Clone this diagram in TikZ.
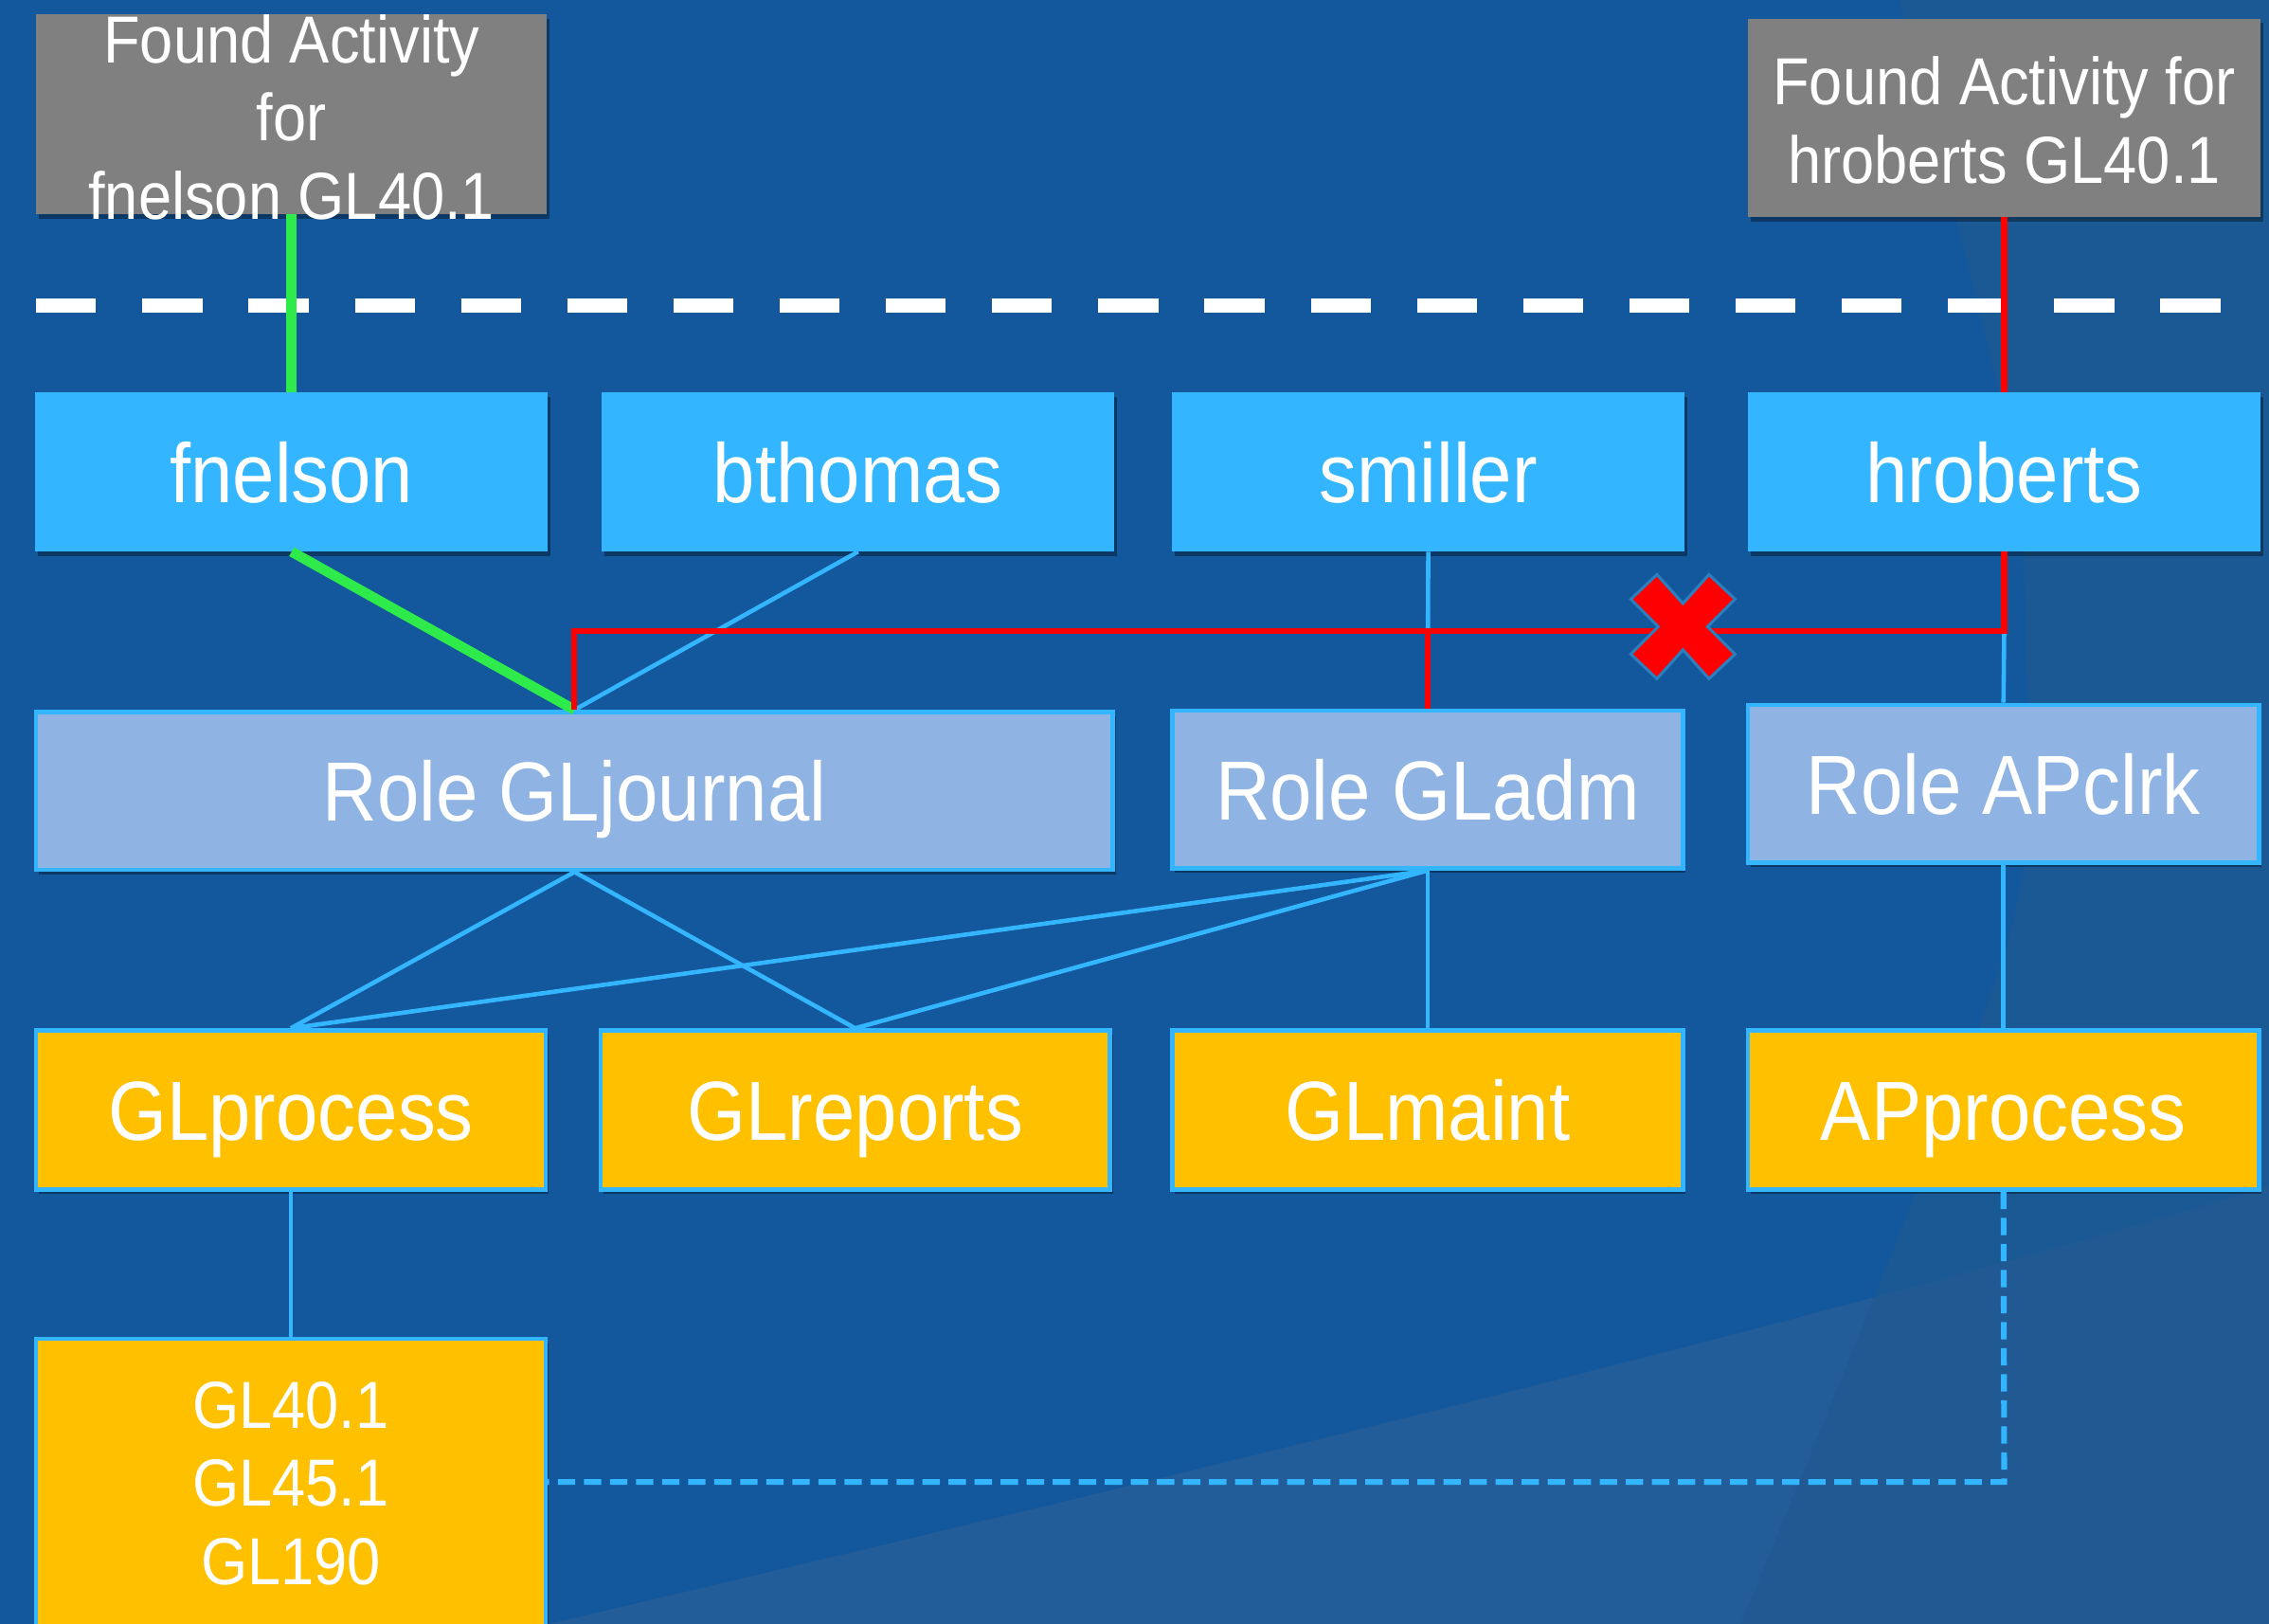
\documentclass[tikz,border=0pt]{standalone}
\usepackage{fontspec}
\setmainfont{Liberation Sans}[FakeStretch=0.9]
\usetikzlibrary{shadows}
\definecolor{bg}{HTML}{13579C}
\definecolor{bgright}{HTML}{1A5994}
\definecolor{bgwedge}{HTML}{225D99}
\definecolor{bgboth}{HTML}{215A92}
\definecolor{ublue}{HTML}{33B5FF}
\definecolor{rolefill}{HTML}{8FB4E3}
\definecolor{permfill}{HTML}{FFC000}
\definecolor{grayfill}{HTML}{808080}
\definecolor{okgreen}{HTML}{2EEA4A}
\definecolor{xred}{HTML}{FF0000}
\definecolor{xedge}{HTML}{2A7FBF}
\tikzset{
  shad/.style={drop shadow={shadow xshift=2pt, shadow yshift=-3pt, opacity=0.35, fill=black}},
  basebox/.style={rectangle, inner sep=0pt, text=white, shad,
    font=\fontsize{58}{62}\selectfont, text height=42pt, text depth=0pt},
  userbox/.style={basebox, fill=ublue, minimum width=354pt, minimum height=110pt},
  rolebox/.style={basebox, fill=rolefill, draw=ublue, line width=3pt, minimum width=353pt, minimum height=109pt},
  permbox/.style={basebox, fill=permfill, draw=ublue, line width=3pt, minimum width=352pt, minimum height=110pt},
  graybox/.style={rectangle, inner sep=0pt, fill=grayfill, shad},
  smalltext/.style={text=white, align=center, inner sep=0pt, font=\fontsize{46}{54}\selectfont},
  conn/.style={draw=ublue, line width=3pt},
  redline/.style={draw=xred, line width=4pt},
  greenline/.style={draw=okgreen, line width=7pt},
}
\begin{document}
\begin{tikzpicture}[x=1pt,y=-1pt]
\fill[bg] (0,0) rectangle (1568,1122);
\useasboundingbox (0,0) rectangle (1568,1122);
% background light shapes
\def\rightregion{plot[smooth] coordinates {(1312,0) (1384,284) (1400,450) (1386,655) (1203,1122)} -- (1568,1122) -- (1568,0) -- cycle}
\def\wedgeregion{(380,1122) .. controls (600,1070) and (1200,930) .. (1568,820) -- (1568,1122) -- cycle}
\fill[bgright] \rightregion;
\fill[bgwedge] \wedgeregion;
\begin{scope}
  \clip \rightregion;
  \fill[bgboth] \wedgeregion;
\end{scope}

% found activity boxes
\node[graybox, minimum width=353pt, minimum height=138pt] (g1) at (201.5,79) {};
\node[smalltext] (g1t) at (201.5,81) {Found Activity\\for\\fnelson GL40.1};
\node[graybox, minimum width=354pt, minimum height=137pt] (g2) at (1385,81.5) {};
\node[smalltext] (g2t) at (1385,83) {Found Activity for\\hroberts GL40.1};

% separator
\draw[white, line width=10pt, dash pattern=on 41.4pt off 32pt] (25,211) -- (1535,211);

% users
\node[userbox] (fn) at (201.5,326) {fnelson};
\node[userbox] (bt) at (593,326) {bthomas};
\node[userbox] (sm) at (987,326) {smiller};
\node[userbox] (hr) at (1385,326) {hroberts};

% roles
\node[rolebox, minimum width=744pt] (jr) at (397,546.5) {Role GLjournal};
\node[rolebox] (ad) at (986.5,545.5) {Role GLadm};
\node[rolebox] (ac) at (1384.5,541.5) {Role APclrk};

% permissions
\node[permbox] (gp) at (201,767) {GLprocess};
\node[permbox] (gr) at (591,767) {GLreports};
\node[permbox, minimum width=353pt] (gm) at (986.5,767) {GLmaint};
\node[permbox, minimum width=353pt] (app) at (1384.5,767) {APprocess};

% programs box
\node[permbox, minimum height=215pt] (pg) at (201,1032.5) {};
\node[smalltext] (pgt) at (201,1025) {GL40.1\\GL45.1\\GL190};

% coordinates
\coordinate (rc) at (1385,436);
\coordinate (dc) at (1385,1024);

% connectors
\draw[conn] (bt.south) -- (jr.north);
\draw[conn] (sm.south) -- (ad.north);
\draw[conn] (rc) -- (ac.north);
\draw[conn] (jr.south) -- (gp.north);
\draw[conn] (jr.south) -- (gr.north);
\draw[conn] (ad.south) -- (gp.north);
\draw[conn] (ad.south) -- (gr.north);
\draw[conn] (ad.south) -- (gm.north);
\draw[conn] (ac.south) -- (app.north);
\draw[conn] (gp.south) -- (pg.north);
\draw[draw=ublue, line width=4pt, dash pattern=on 12pt off 6pt] (app.south) -- (dc) -- (pg.east |- dc);

% found activity paths
\draw[greenline] (g1.south) -- (fn.north);
\draw[greenline] (fn.south) -- (jr.north);
\draw[redline] (g2.south) -- (hr.north);
\draw[redline] (hr.south) -- (rc) -- (rc -| jr.north) -- (jr.north);
\draw[redline] (rc -| ad.north) -- (ad.north);

% red cross
\coordinate (xc) at (1163,433);
\filldraw[fill=xred, draw=xedge, line width=2pt, shift={(xc)}]
  (-18,-36) -- (0,-16) -- (18,-36) -- (36,-19) -- (17,0) -- (36,19) -- (18,36) -- (0,16) -- (-18,36) -- (-36,19) -- (-17,0) -- (-36,-19) -- cycle;
\end{tikzpicture}
\end{document}
